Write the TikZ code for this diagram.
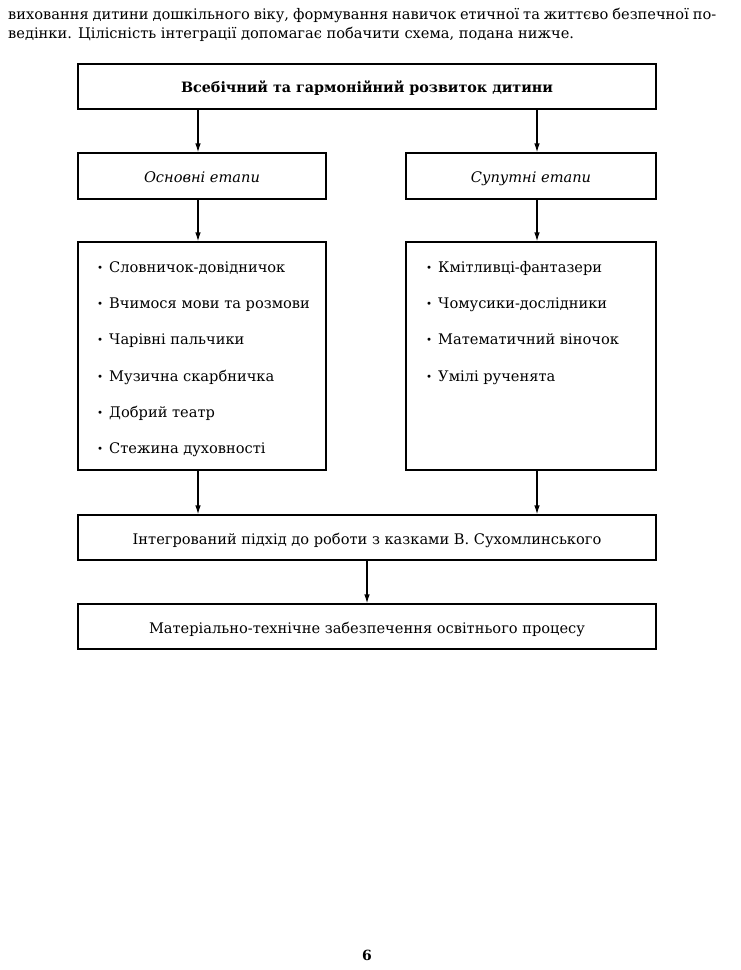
\documentclass[tikz,border=0pt]{standalone}
\usepackage{fontspec}
\usepackage{graphicx}
\setmainfont{DejaVu Serif}
\usetikzlibrary{arrows.meta}
\newcommand{\fs}{\fontsize{14.6}{17}\selectfont}
\newcommand{\bul}{\raisebox{0.5pt}{\scalebox{0.7}{•}}\hspace{6pt}}
\begin{document}
\begin{tikzpicture}[x=1pt,y=-1pt,
  box/.style={draw,line width=1.2pt,inner sep=0pt},
  conn/.style={line width=1.2pt,-{Latex[length=9pt,width=5.5pt]}},
  item/.style={anchor=base west,inner sep=0pt,font=\fs},
  lbl/.style={anchor=base,inner sep=0pt,font=\fs}]
\useasboundingbox (0,0) rectangle (740,970);
\fill[white] (0,0) rectangle (740,970);
\node[anchor=base west,inner sep=0pt,font=\fs] (para1) at (8,19.5)
  {\makebox[708pt][s]{виховання дитини дошкільного віку, формування навичок етичної та життєво безпечної по-}};
\node[anchor=base west,inner sep=0pt,font=\fs] (para2) at (8,38)
  {ведінки. Цілісність інтеграції допомагає побачити схема, подана нижче.};
% boxes
\node[box,minimum width=578pt,minimum height=45pt] (top) at (367,86.5) {};
\node[lbl,font=\fontsize{14.3}{17}\selectfont\bfseries] (topt) at (367,92.7) {Всебічний та гармонійний розвиток дитини};
\node[box,minimum width=248pt,minimum height=46pt] (osn) at (202,176) {};
\node[lbl,font=\fs\itshape] (osnt) at (202,182) {Основні етапи};
\node[box,minimum width=250pt,minimum height=46pt] (sup) at (531,176) {};
\node[lbl,font=\fs\itshape] (supt) at (531,182) {Супутні етапи};
\node[box,minimum width=248pt,minimum height=228pt] (osnl) at (202,356) {};
\node[box,minimum width=250pt,minimum height=228pt] (supl) at (531,356) {};
\node[box,minimum width=578pt,minimum height=45pt] (int) at (367,537.5) {};
\node[lbl] (intt) at (367,544) {Інтегрований підхід до роботи з казками В. Сухомлинського};
\node[box,minimum width=578pt,minimum height=45pt] (mat) at (367,626.5) {};
\node[lbl] (matt) at (367,633) {Матеріально-технічне забезпечення освітнього процесу};
% list items
\node[item] (a1) at (97,272.3) {\bul Словничок-довідничок};
\node[item] (a2) at (97,308.3) {\bul Вчимося мови та розмови};
\node[item] (a3) at (97,344.3) {\bul Чарівні пальчики};
\node[item] (a4) at (97,381.3) {\bul Музична скарбничка};
\node[item] (a5) at (97,417.3) {\bul Добрий театр};
\node[item] (a6) at (97,453.3) {\bul Стежина духовності};
\node[item] (b1) at (426,272.3) {\bul Кмітливці-фантазери};
\node[item] (b2) at (426,308.3) {\bul Чомусики-дослідники};
\node[item] (b3) at (426,344.3) {\bul Математичний віночок};
\node[item] (b4) at (426,381.3) {\bul Умілі рученята};
% connectors
\coordinate (cl) at (198,0);
\coordinate (cr) at (537,0);
\draw[conn] (cl |- top.south) -- (cl |- osn.north);
\draw[conn] (cr |- top.south) -- (cr |- sup.north);
\draw[conn] (cl |- osn.south) -- (cl |- osnl.north);
\draw[conn] (cr |- sup.south) -- (cr |- supl.north);
\draw[conn] (cl |- osnl.south) -- (cl |- int.north);
\draw[conn] (cr |- supl.south) -- (cr |- int.north);
\draw[conn] (int.south) -- (mat.north);
\node[inner sep=0pt,font=\fontsize{14}{16}\selectfont\bfseries] (pg) at (367,955) {6};
\end{tikzpicture}
\end{document}
